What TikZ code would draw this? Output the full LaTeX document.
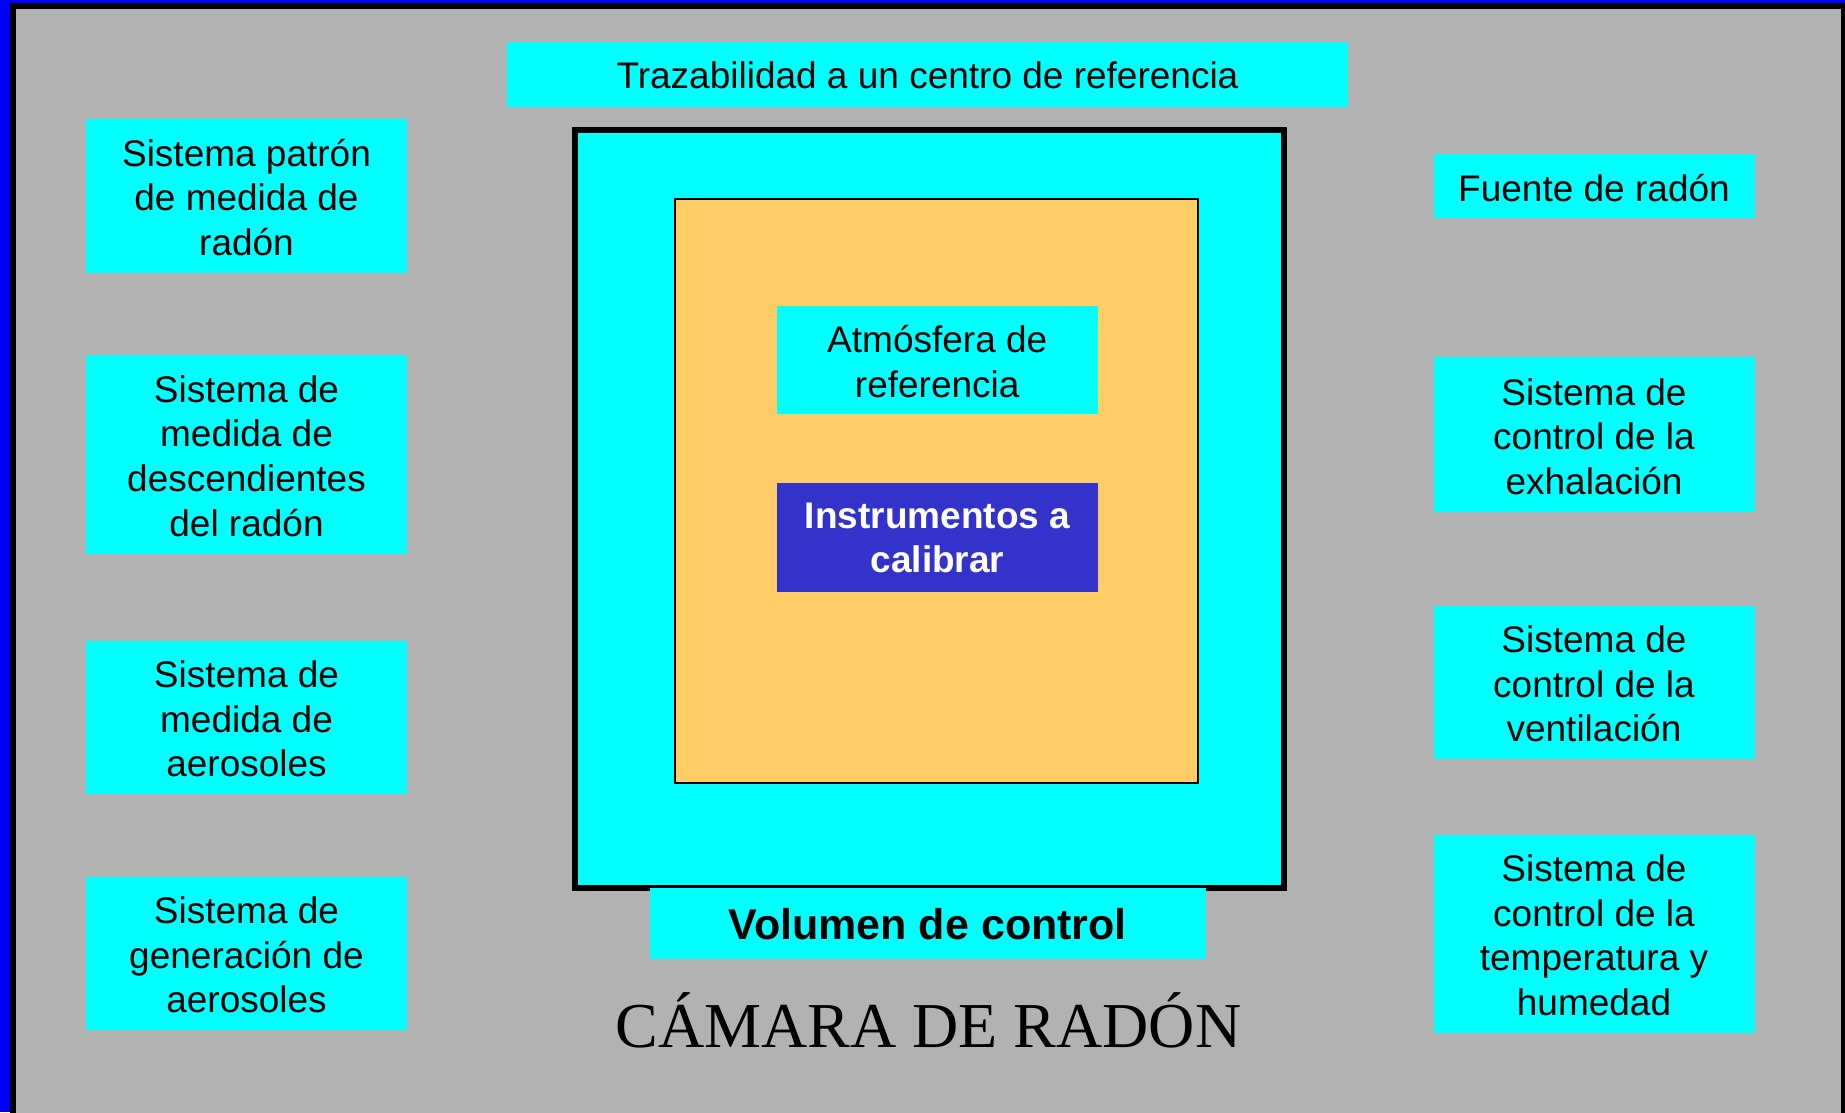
\documentclass[tikz,border=0pt]{standalone}
\usepackage{fontspec}
\setmainfont{Liberation Sans}
\newfontfamily\timesfam{Liberation Serif}
\definecolor{bgray}{HTML}{B2B2B2}
\definecolor{cyanb}{HTML}{00FFFF}
\definecolor{orangeb}{HTML}{FFCC66}
\definecolor{instr}{HTML}{3333CC}
\definecolor{frameblue}{HTML}{0000FF}
\begin{document}
\begin{tikzpicture}[x=1pt,y=-1pt,
  cbox/.style={fill=cyanb, inner sep=0pt},
  ctext/.style={inner sep=0pt, align=center, text=black,
    font=\fontsize{37}{44.7}\selectfont},
]
\useasboundingbox (0,0) rectangle (1845,1112);
\clip (0,0) rectangle (1845,1112);
% frame
\fill[frameblue] (0,0) rectangle (1845,1112);
\fill[black] (10,3) rectangle (1860,1130);
\fill[bgray] (16,9) rectangle (1841,1130);
% top box
\node[cbox, minimum width=841pt, minimum height=64.6pt] (traz) at (927.5,74.7) {};
\node[ctext] (trazt) at ([yshift=-1pt]traz.center) {Trazabilidad a un centro de referencia};
% control volume
\node[draw=black, line width=6pt, fill=cyanb, inner sep=0pt, minimum width=709pt, minimum height=758pt] (vol) at (929.5,509) {};
\node[draw=black, line width=2pt, fill=orangeb, inner sep=0pt, minimum width=523pt, minimum height=583.5pt] (atmreg) at (936.5,490.75) {};
\node[cbox, minimum width=321.3pt, minimum height=108pt] (atm) at (937.25,360) {};
\node[ctext] (atmt) at ([yshift=-1.5pt]atm.center) {Atmósfera de\\referencia};
\node[fill=instr, inner sep=0pt, minimum width=321pt, minimum height=109pt] (inst) at (937.5,537.5) {};
\node[ctext, text=white, font=\fontsize{37}{44.7}\selectfont\bfseries] (instt) at ([yshift=-0.5pt]inst.center) {Instrumentos a\\calibrar};
\node[cbox, minimum width=556.5pt, minimum height=71pt] (vollab) at (927.75,923.5) {};
\node[ctext, font=\fontsize{43}{50}\selectfont\bfseries] (vollabt) at ([yshift=-1pt]vollab.center) {Volumen de control};
% left boxes
\node[cbox, minimum width=321pt, minimum height=153.7pt] (l1) at (246.5,195.85) {};
\node[ctext] (l1t) at ([yshift=-1.5pt]l1.center) {Sistema patrón\\de medida de\\radón};
\node[cbox, minimum width=321pt, minimum height=199pt] (l2) at (246.5,454.5) {};
\node[ctext] (l2t) at ([yshift=-1.5pt]l2.center) {Sistema de\\medida de\\descendientes\\del radón};
\node[cbox, minimum width=321pt, minimum height=153pt] (l3) at (246.5,717.5) {};
\node[ctext] (l3t) at ([yshift=-1.5pt]l3.center) {Sistema de\\medida de\\aerosoles};
\node[cbox, minimum width=321pt, minimum height=153pt] (l4) at (246.5,953.5) {};
\node[ctext] (l4t) at ([yshift=-1.5pt]l4.center) {Sistema de\\generación de\\aerosoles};
% right boxes
\node[cbox, minimum width=321pt, minimum height=64pt] (r1) at (1594,186) {};
\node[ctext] (r1t) at ([yshift=-2.5pt]r1.center) {Fuente de radón};
\node[cbox, minimum width=321pt, minimum height=155.5pt] (r2) at (1594,434.25) {};
\node[ctext] (r2t) at ([yshift=-2.5pt]r2.center) {Sistema de\\control de la\\exhalación};
\node[cbox, minimum width=321pt, minimum height=153pt] (r3) at (1594,682.5) {};
\node[ctext] (r3t) at ([yshift=-1.5pt]r3.center) {Sistema de\\control de la\\ventilación};
\node[cbox, minimum width=321pt, minimum height=197.7pt] (r4) at (1594,933.85) {};
\node[ctext] (r4t) at ([yshift=-1.5pt]r4.center) {Sistema de\\control de la\\temperatura y\\humedad};
% title
\node[inner sep=0pt, anchor=base, font=\timesfam\fontsize{64}{70}\selectfont] (title) at (928.5,1047) {CÁMARA DE RADÓN};
\end{tikzpicture}
\end{document}
